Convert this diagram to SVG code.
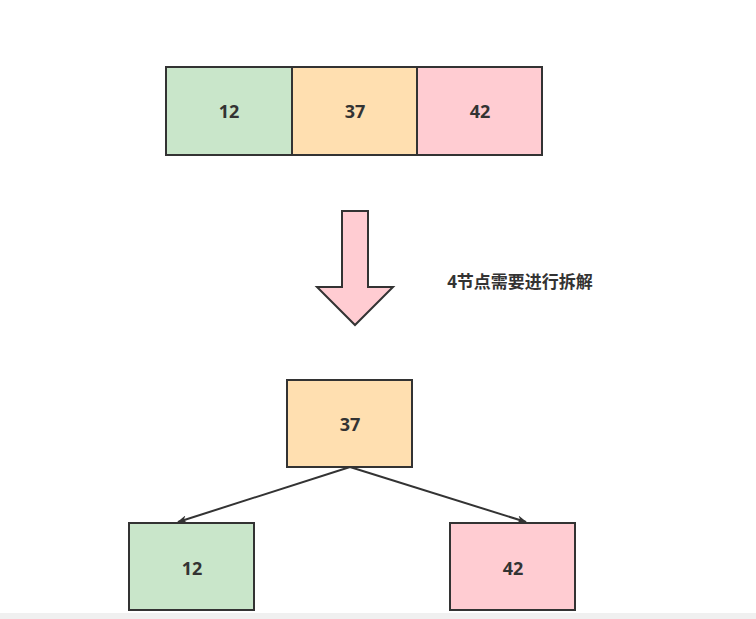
<svg xmlns="http://www.w3.org/2000/svg" width="756" height="619" viewBox="0 0 756 619">
<style>
.b{stroke:#333;stroke-width:2}
.g{fill:#c9e6ca}.o{fill:#ffdfb0}.p{fill:#ffccd2}
text{font-family:"Open Sans","Liberation Sans","Noto Sans CJK SC",sans-serif;font-weight:bold;font-size:18px;fill:#333;text-anchor:middle;dominant-baseline:central}
</style>
<defs><marker id="a" markerWidth="10" markerHeight="8" refX="9" refY="4" orient="auto" markerUnits="userSpaceOnUse"><path d="M0,0L10,4L0,8L3,4Z" fill="#333"/></marker></defs>
<rect width="756" height="619" fill="#fff"/>
<rect x="0" y="613" width="756" height="6" fill="#f0f0f0"/>
<g id="top-12"><rect class="b g" x="166" y="67" width="126" height="88"/><text x="229" y="111">12</text></g>
<g id="top-37"><rect class="b o" x="292" y="67" width="125" height="88"/><text x="355" y="111">37</text></g>
<g id="top-42"><rect class="b p" x="417" y="67" width="125" height="88"/><text x="480" y="111">42</text></g>
<g id="arrow"><path class="b" fill="#ffccd2" d="M342,211H368V287H393L355,325L317,287H342Z"/></g>
<text x="520" y="281" style="font-size:17px">4节点需要进行拆解</text>
<g id="mid-37"><rect class="b o" x="287" y="380" width="125" height="87"/><text x="350" y="424">37</text></g>
<g id="bot-12"><rect class="b g" x="129" y="523" width="125" height="87"/><text x="192" y="568">12</text></g>
<g id="bot-42"><rect class="b p" x="450" y="523" width="125" height="87"/><text x="513" y="568">42</text></g>
<g id="connectors" stroke="#333" stroke-width="2" fill="none">
<path d="M350,467L178,522" marker-end="url(#a)"/>
<path d="M350,467L526,522" marker-end="url(#a)"/>
</g>
</svg>
